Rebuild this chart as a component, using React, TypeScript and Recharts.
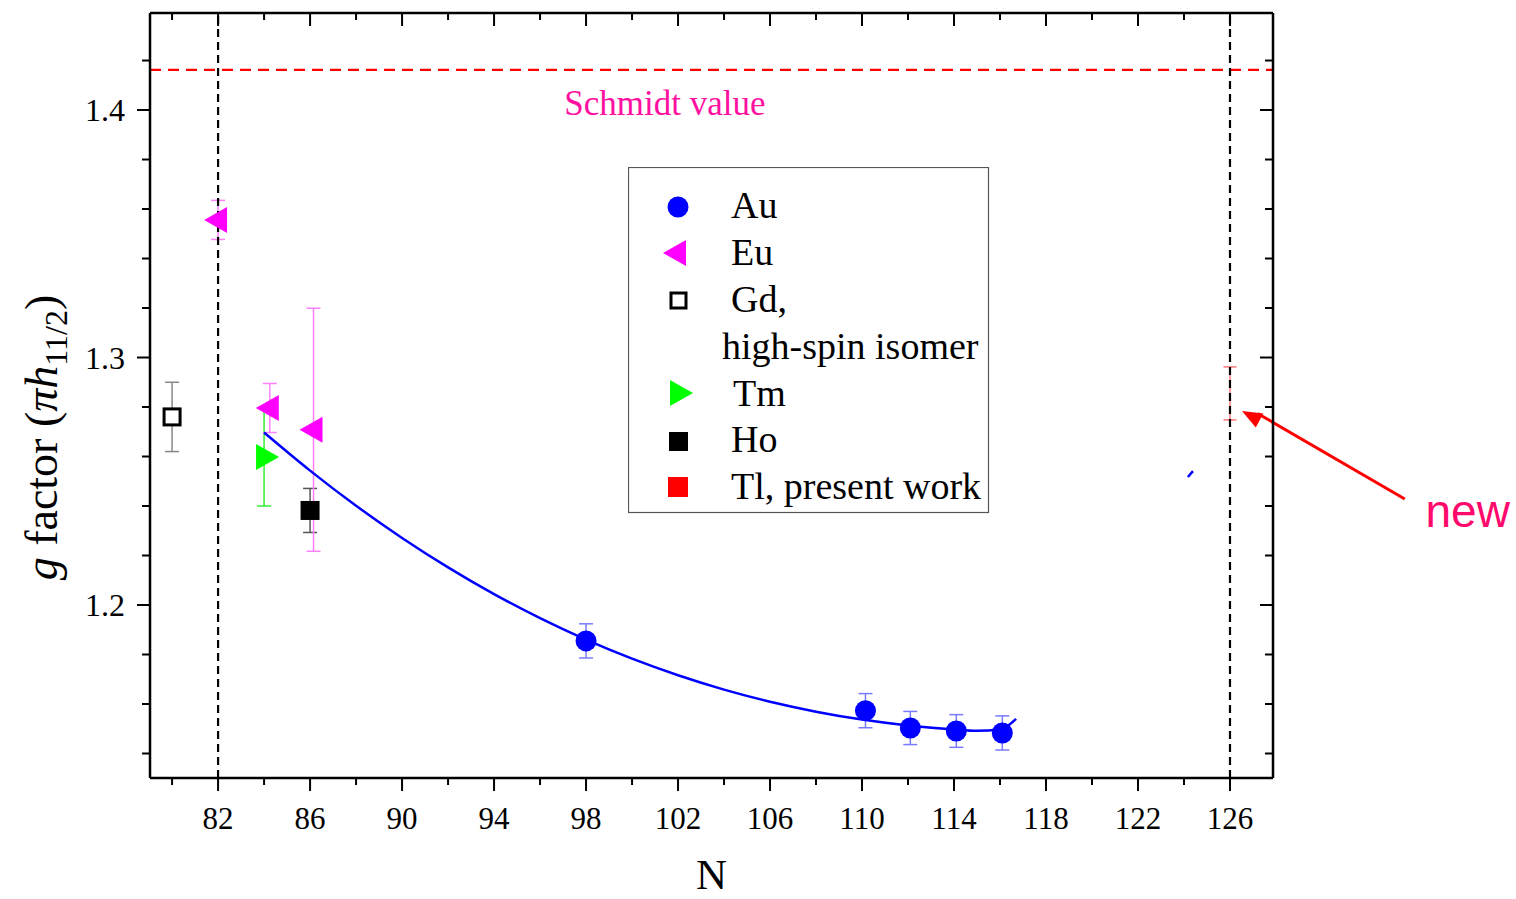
import React from 'react';
import {
  ComposedChart,
  Scatter,
  XAxis,
  YAxis,
  ErrorBar,
  ReferenceLine,
  ReferenceDot,
  Legend,
  Label,
} from 'recharts';

// ---------- data ----------
const auN = [98, 110.15, 112.1, 114.1, 116.1];
const auG = [1.1855, 1.1573, 1.1503, 1.1491, 1.1483];
const auErr = [0.0069, 0.0069, 0.0067, 0.0066, 0.0069];

const euN = [82, 84.25, 86.15];
const euG = [1.3556, 1.2796, 1.2708];
const euErr = [0.0079, 0.0099, 0.0491];

const gdN = [80];
const gdG = [1.276];
const gdErr = [0.014];

const tmN = [84];
const tmG = [1.2598];
const tmErr = [0.0198];

const hoN = [86];
const hoG = [1.2382];
const hoErr = [0.0089];

const tlN = [126];
const tlG = [1.2855];
const tlErr = [0.0107];

const fitN = [84, 86, 88, 90, 92, 94, 96, 98, 100, 102, 104, 106, 108, 110, 112, 114, 115, 116, 116.7];
const fitG = [1.2697, 1.2543, 1.2401, 1.2271, 1.2152, 1.2044, 1.1947, 1.186, 1.1783, 1.1716, 1.1658, 1.1609, 1.1569, 1.1537, 1.1513, 1.1497, 1.1492, 1.1497, 1.154];

const strayN = [124.17, 124.39];
const strayG = [1.2517, 1.2541];

const schmidtG = 1.4162;

const xDomain = [79.04, 127.87];
const yDomain = [1.1301, 1.4392];
const xTicks = [80, 82, 84, 86, 88, 90, 92, 94, 96, 98, 100, 102, 104, 106, 108, 110, 112, 114, 116, 118, 120, 122, 124, 126];
const xMajorTicks = [82, 86, 90, 94, 98, 102, 106, 110, 114, 118, 122, 126];
const yTicks = [1.14, 1.16, 1.18, 1.2, 1.22, 1.24, 1.26, 1.28, 1.3, 1.32, 1.34, 1.36, 1.38, 1.4, 1.42];
const yMajorLabels = ['1.2', '1.3', '1.4'];

const legendLabels = ['Au', 'Eu', 'Gd,', 'high-spin isomer', 'Tm', 'Ho', 'Tl, present work'];

const toPts = (n: number[], g: number[], e?: number[]) =>
  n.map((v, i) => ({ N: v, g: g[i], err: e ? e[i] : 0 }));

const auData = toPts(auN, auG, auErr);
const euData = toPts(euN, euG, euErr);
const gdData = toPts(gdN, gdG, gdErr);
const tmData = toPts(tmN, tmG, tmErr);
const hoData = toPts(hoN, hoG, hoErr);
const tlData = toPts(tlN, tlG, tlErr);
const fitData = toPts(fitN, fitG);
const strayData = toPts(strayN, strayG);

// ---------- styles ----------
const SERIF = '"Liberation Serif", "Times New Roman", serif';
const SANS = '"Liberation Sans", Arial, sans-serif';

const isXMajor = (v: number) => xMajorTicks.some((m) => Math.abs(m - v) < 1e-6);
const yLabelOf = (v: number) => {
  const one = (Math.round(v * 10) / 10).toFixed(1);
  return Math.abs(v - parseFloat(one)) < 1e-6 && yMajorLabels.includes(one) ? one : null;
};

const BottomTick = (p: any) => {
  const v = p.payload.value;
  const major = isXMajor(v);
  return (
    <g>
      <line x1={p.x} y1={p.y} x2={p.x} y2={p.y + (major ? 13 : 7)} stroke="#000" strokeWidth={2} />
      {major && (
        <text x={p.x} y={p.y + 51} textAnchor="middle" fontFamily={SERIF} fontSize={31} fill="#000">
          {v}
        </text>
      )}
    </g>
  );
};

const TopTick = (p: any) => {
  const major = isXMajor(p.payload.value);
  return <line x1={p.x} y1={p.y} x2={p.x} y2={p.y + (major ? 13 : 7)} stroke="#000" strokeWidth={2} />;
};

const LeftTick = (p: any) => {
  const lab = yLabelOf(p.payload.value);
  return (
    <g>
      <line x1={p.x - (lab ? 13 : 8)} y1={p.y} x2={p.x} y2={p.y} stroke="#000" strokeWidth={2} />
      {lab && (
        <text x={p.x - 25} y={p.y + 11} textAnchor="end" fontFamily={SERIF} fontSize={32} fill="#000">
          {lab}
        </text>
      )}
    </g>
  );
};

const RightTick = (p: any) => {
  const lab = yLabelOf(p.payload.value);
  return <line x1={p.x - (lab ? 13 : 8)} y1={p.y} x2={p.x} y2={p.y} stroke="#000" strokeWidth={2} />;
};

const YTitle = (props: any) => {
  const vb = props.viewBox;
  const x = vb.x + 7;
  const y = vb.y + vb.height / 2 + 42;
  return (
    <text
      x={x}
      y={y}
      transform={`rotate(-90, ${x}, ${y})`}
      textAnchor="middle"
      fontFamily={SERIF}
      fontSize={46}
      fill="#000"
    >
      <tspan fontStyle="italic">g</tspan>
      <tspan> factor (</tspan>
      <tspan fontStyle="italic">πh</tspan>
      <tspan dy={10} fontSize={32}>11/2</tspan>
      <tspan dy={-10}>)</tspan>
    </text>
  );
};

const XTitle = (props: any) => {
  const vb = props.viewBox;
  return (
    <text x={vb.x + vb.width / 2} y={vb.y + 111} textAnchor="middle" fontFamily={SERIF} fontSize={43} fill="#000">
      N
    </text>
  );
};

// ---------- marker shapes ----------
const AuDot = (p: any) => <circle cx={p.cx} cy={p.cy} r={10.5} fill="#0000ff" />;
const EuDot = (p: any) => (
  <polygon
    points={`${p.cx - 14},${p.cy} ${p.cx + 9},${p.cy - 13} ${p.cx + 9},${p.cy + 13}`}
    fill="#ff00ff"
  />
);
const TmDot = (p: any) => (
  <polygon
    points={`${p.cx - 8},${p.cy - 13} ${p.cx - 8},${p.cy + 13} ${p.cx + 15},${p.cy}`}
    fill="#00ff00"
  />
);
const GdDot = (p: any) => (
  <rect x={p.cx - 8} y={p.cy - 8} width={16} height={16} fill="#fff" stroke="#000" strokeWidth={3} />
);
const HoDot = (p: any) => <rect x={p.cx - 9.5} y={p.cy - 9.5} width={19} height={19} fill="#000" />;
const NoDot = () => <g />;

const ArrowHead = (p: any) => (
  <polygon
    points={`${p.cx},${p.cy} ${p.cx - 20},${p.cy - 8} ${p.cx - 20},${p.cy + 8}`}
    fill="#ff0000"
    transform={`rotate(208.4, ${p.cx}, ${p.cy})`}
  />
);
const SchmidtText = (p: any) => (
  <text x={p.cx} y={p.cy} textAnchor="middle" fontFamily={SERIF} fontSize={35} fill="#ff10a0">
    Schmidt value
  </text>
);
const NewText = (p: any) => (
  <text x={p.cx} y={p.cy} textAnchor="start" fontFamily={SANS} fontSize={46} fill="#ff0a6c">
    new
  </text>
);

// ---------- legend ----------
const LegendBox = () => {
  const rowsY = [51, 98, 145, 192, 239, 285, 332];
  const textX = [103, 103, 103, 94, 105, 103, 103];
  return (
    <svg width={362} height={347} style={{ display: 'block' }}>
      <rect x={0.5} y={0.5} width={360} height={345} fill="#fff" stroke="#555" strokeWidth={1.2} />
      <circle cx={50} cy={40} r={10.5} fill="#0000ff" />
      <polygon points="35,86 58,73 58,99" fill="#ff00ff" />
      <rect x={43} y={126} width={15} height={15} fill="#fff" stroke="#000" strokeWidth={3} />
      <polygon points="42,213 42,239 65,226" fill="#00ff00" />
      <rect x={41} y={265} width={19} height={19} fill="#000" />
      <rect x={40} y={310} width={20} height={20} fill="#ff0000" />
      {legendLabels.map((t, i) => (
        <text key={t} x={textX[i]} y={rowsY[i]} fontFamily={SERIF} fontSize={38} fill="#000">
          {t}
        </text>
      ))}
    </svg>
  );
};

export default function App() {
  return (
    <div style={{ position: 'absolute', left: 0, top: 0, width: 1516, height: 899, background: '#fff' }}>
      <ComposedChart width={1516} height={899} margin={{ top: 3, right: 233, bottom: 61, left: 50 }}>
        <XAxis
          dataKey="N"
          type="number"
          domain={xDomain}
          allowDataOverflow
          ticks={xTicks}
          interval={0}
          tickSize={0}
          tickMargin={0}
          tickLine={false}
          tick={BottomTick}
          height={60}
          axisLine={{ stroke: '#000', strokeWidth: 2.5 }}
          label={<Label content={XTitle} />}
        />
        <XAxis
          xAxisId="top"
          orientation="top"
          dataKey="N"
          type="number"
          domain={xDomain}
          allowDataOverflow
          ticks={xTicks}
          interval={0}
          tickSize={0}
          tickMargin={0}
          tickLine={false}
          tick={TopTick}
          height={10}
          axisLine={{ stroke: '#000', strokeWidth: 2.5 }}
        />
        <YAxis
          dataKey="g"
          type="number"
          domain={yDomain}
          allowDataOverflow
          ticks={yTicks}
          interval={0}
          tickSize={0}
          tickMargin={0}
          tickLine={false}
          tick={LeftTick}
          width={100}
          axisLine={{ stroke: '#000', strokeWidth: 2.5 }}
          label={<Label content={YTitle} />}
        />
        <YAxis
          yAxisId="right"
          orientation="right"
          dataKey="g"
          type="number"
          domain={yDomain}
          allowDataOverflow
          ticks={yTicks}
          interval={0}
          tickSize={0}
          tickMargin={0}
          tickLine={false}
          tick={RightTick}
          width={10}
          axisLine={{ stroke: '#000', strokeWidth: 2.5 }}
        />

        <ReferenceLine y={schmidtG} stroke="#ff0000" strokeWidth={2.2} strokeDasharray="11 7" />

        <Scatter
          data={fitData}
          line={{ stroke: '#0000ff', strokeWidth: 2.5 }}
          lineJointType="monotoneX"
          shape={NoDot}
          isAnimationActive={false}
        />
        <Scatter
          data={strayData}
          line={{ stroke: '#0000ff', strokeWidth: 2.5 }}
          shape={NoDot}
          isAnimationActive={false}
        />

        <Scatter data={tlData} shape={NoDot} isAnimationActive={false}>
          <ErrorBar dataKey="err" direction="y" width={6.5} stroke="#ff7a7a" strokeWidth={1.5} />
        </Scatter>
        <Scatter data={gdData} shape={GdDot} isAnimationActive={false}>
          <ErrorBar dataKey="err" direction="y" width={7} stroke="#888888" strokeWidth={1.5} />
        </Scatter>
        <Scatter data={tmData} shape={TmDot} isAnimationActive={false}>
          <ErrorBar dataKey="err" direction="y" width={7} stroke="#33ee33" strokeWidth={1.5} />
        </Scatter>
        <Scatter data={hoData} shape={HoDot} isAnimationActive={false}>
          <ErrorBar dataKey="err" direction="y" width={7} stroke="#555555" strokeWidth={1.5} />
        </Scatter>
        <Scatter data={euData} shape={EuDot} isAnimationActive={false}>
          <ErrorBar dataKey="err" direction="y" width={7} stroke="#ff80ff" strokeWidth={1.5} />
        </Scatter>
        <Scatter data={auData} shape={AuDot} isAnimationActive={false}>
          <ErrorBar dataKey="err" direction="y" width={7} stroke="#7a7aff" strokeWidth={1.5} />
        </Scatter>

        <ReferenceLine x={82} stroke="#000" strokeWidth={2.2} strokeDasharray="8 5" />
        <ReferenceLine x={126} stroke="#000" strokeWidth={2.2} strokeDasharray="8 5" />

        <ReferenceLine
          segment={[
            { x: 133.6, y: 1.2428 },
            { x: 127.2, y: 1.2774 },
          ]}
          stroke="#ff0000"
          strokeWidth={3}
          ifOverflow="visible"
        />
        <ReferenceDot x={126.52} y={1.2784} ifOverflow="visible" shape={ArrowHead} />
        <ReferenceDot x={101.43} y={1.398} ifOverflow="visible" shape={SchmidtText} />
        <ReferenceDot x={134.5} y={1.2315} ifOverflow="visible" shape={NewText} />

        <Legend
          layout="vertical"
          align="center"
          verticalAlign="middle"
          content={() => <LegendBox />}
          wrapperStyle={{ left: 628, top: 167, width: 362, height: 347 }}
        />
      </ComposedChart>
    </div>
  );
}
